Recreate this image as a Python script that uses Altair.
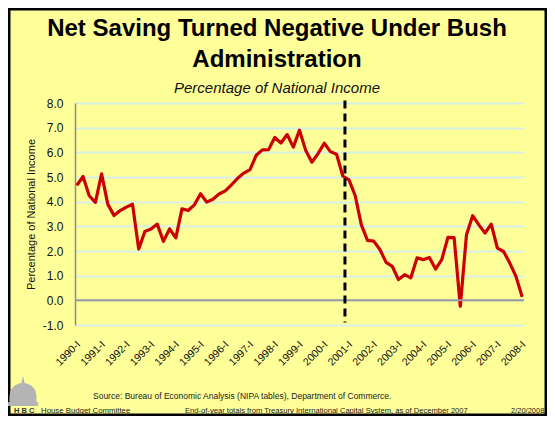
import altair as alt
import pandas as pd

# Net national saving, % of national income, quarterly 1990-I .. 2008-I
saving = [
    4.66, 5.02, 4.24, 3.97, 5.13, 3.90, 3.44, 3.64, 3.78, 3.90,
    2.08, 2.79, 2.89, 3.09, 2.39, 2.90, 2.53, 3.71, 3.64, 3.87,
    4.32, 3.98, 4.10, 4.31, 4.44, 4.68, 4.95, 5.16, 5.30, 5.88,
    6.10, 6.11, 6.60, 6.38, 6.72, 6.21, 6.90, 6.08, 5.60, 5.95,
    6.37, 6.03, 5.92, 5.04, 4.88, 4.25, 3.06, 2.43, 2.40, 2.06,
    1.54, 1.38, 0.84, 1.04, 0.91, 1.72, 1.65, 1.74, 1.27, 1.65,
    2.55, 2.54, -0.24, 2.66, 3.43, 3.06, 2.73, 3.09, 2.12, 1.98,
    1.51, 0.97, 0.14,
]
tick_labels = [
    "1990-I", "1991-I", "1992-I", "1993-I", "1994-I", "1995-I", "1996-I",
    "1997-I", "1998-I", "1999-I", "2000-I", "2001-I", "2002-I", "2003-I",
    "2004-I", "2005-I", "2006-I", "2007-I", "2008-I",
]
tick_positions = [4 * i for i in range(len(tick_labels))]  # quarter index of each label
y_ticks = [-1, 0, 1, 2, 3, 4, 5, 6, 7, 8]
bush_start = 43.35  # quarter index where the Bush administration begins

FONT = "Liberation Sans"
W, H = 449, 222
PAD = {"left": 67, "top": 95, "right": 23, "bottom": 91}

df = pd.DataFrame({"q": list(range(len(saving))), "v": saving})
ticks_df = pd.DataFrame({"q": tick_positions, "label": tick_labels})
one = pd.DataFrame({"a": [0]})

x_scale = alt.Scale(domain=[-0.3, 72.3], nice=False, zero=False)
y_scale = alt.Scale(domain=[-1, 8], nice=False, zero=False)

line = alt.Chart(df).mark_line(color="#CC0000", strokeWidth=3.2, strokeJoin="round").encode(
    x=alt.X("q:Q", scale=x_scale, axis=None),
    y=alt.Y("v:Q", scale=y_scale, axis=alt.Axis(
        values=y_ticks, tickCount=20,
        labelExpr="(datum.value < 0 ? '-' : '') + format(abs(datum.value), '.1f')",
        labelFontSize=12, labelColor="#111", labelOverlap=False, labelFlush=False,
        labelPadding=12, ticks=False, domain=True, domainColor="#8C8C8C",
        domainWidth=1.5, grid=True, gridColor="#D6EFEA", gridWidth=2,
        title="Percentage of National Income", titleFontSize=11,
        titleFontWeight="normal", titleColor="#111", titleX=-44, titleY=H / 2,
        titleAngle=-90, titleAlign="center", titleBaseline="middle")),
)

xlabels = alt.Chart(ticks_df).mark_text(
    font=FONT, fontSize=10.5, color="#111", angle=315, align="right",
    baseline="middle", xOffset=2).encode(
    x=alt.X("q:Q", scale=x_scale), y=alt.value(H + 18), text="label:N")

zero = alt.Chart(one).mark_rule(color="#999999", strokeWidth=2).encode(
    y=alt.datum(0, scale=y_scale))

dash = alt.Chart(one).mark_rule(color="black", strokeWidth=3, strokeDash=[8, 5]).encode(
    x=alt.datum(bush_start, scale=x_scale),
    y=alt.datum(8.1, scale=y_scale), y2=alt.datum(-0.9))

frame = alt.Chart(one).mark_rect(fill="transparent", stroke="black", strokeWidth=2.5).encode(
    x=alt.value(-PAD["left"] + 1.25), x2=alt.value(W + PAD["right"] - 1.25),
    y=alt.value(-PAD["top"] + 1.25), y2=alt.value(H + PAD["bottom"] - 1.25))

def note(text, x, y, size, weight="normal", color="#222", style="normal", align="left"):
    return alt.Chart(one).mark_text(
        text=text, font=FONT, fontSize=size, fontWeight=weight, color=color,
        fontStyle=style, align=align, baseline="alphabetic").encode(
        x=alt.value(x), y=alt.value(y))

title_marks = [
    note("Net Saving Turned Negative Under Bush", 202, -67.5, 24, "bold", "black", align="center"),
    note("Administration", 202, -36.5, 24, "bold", "black", align="center"),
    note("Percentage of National Income", 202, -10, 15, "normal", "#111", "italic", align="center"),
]

dome = alt.Chart(one).mark_point(
    shape="M -0.9 1 L -0.9 0.35 Q -0.85 -0.45 0 -0.55 Q 0.85 -0.45 0.9 0.35 L 0.9 1 Z "
          "M -0.12 -0.5 L 0 -1 L 0.12 -0.5 Z M -1 0.75 L 1 0.75 L 1 1 L -1 1 Z",
    size=900, filled=True, color="#B4B4B4", opacity=1).encode(
    x=alt.value(-52), y=alt.value(288))

notes = [
    note("Source:  Bureau of Economic Analysis (NIPA tables), Department of Commerce.", 18, 296, 8.5),
    note("H B C", -61, 310, 7.5, "bold", "#333"),
    note("House Budget Committee", -34, 310, 7.8),
    note("End-of-year totals from Treasury International Capital System, as of December 2007", 110, 310, 7.6),
    note("2/20/2008", 436, 310, 7.5),
]

chart = alt.layer(line, xlabels, zero, dash, frame, dome, *title_marks, *notes).properties(
    width=W, height=H, padding=PAD,
    autosize=alt.AutoSizeParams(type="none"),
    background="#FFFF99",
).configure_view(stroke=None, fill="#FFFF99").configure_axis(labelFont=FONT, titleFont=FONT)

chart.save("out.html", embed_options={"renderer": "svg", "actions": False})
